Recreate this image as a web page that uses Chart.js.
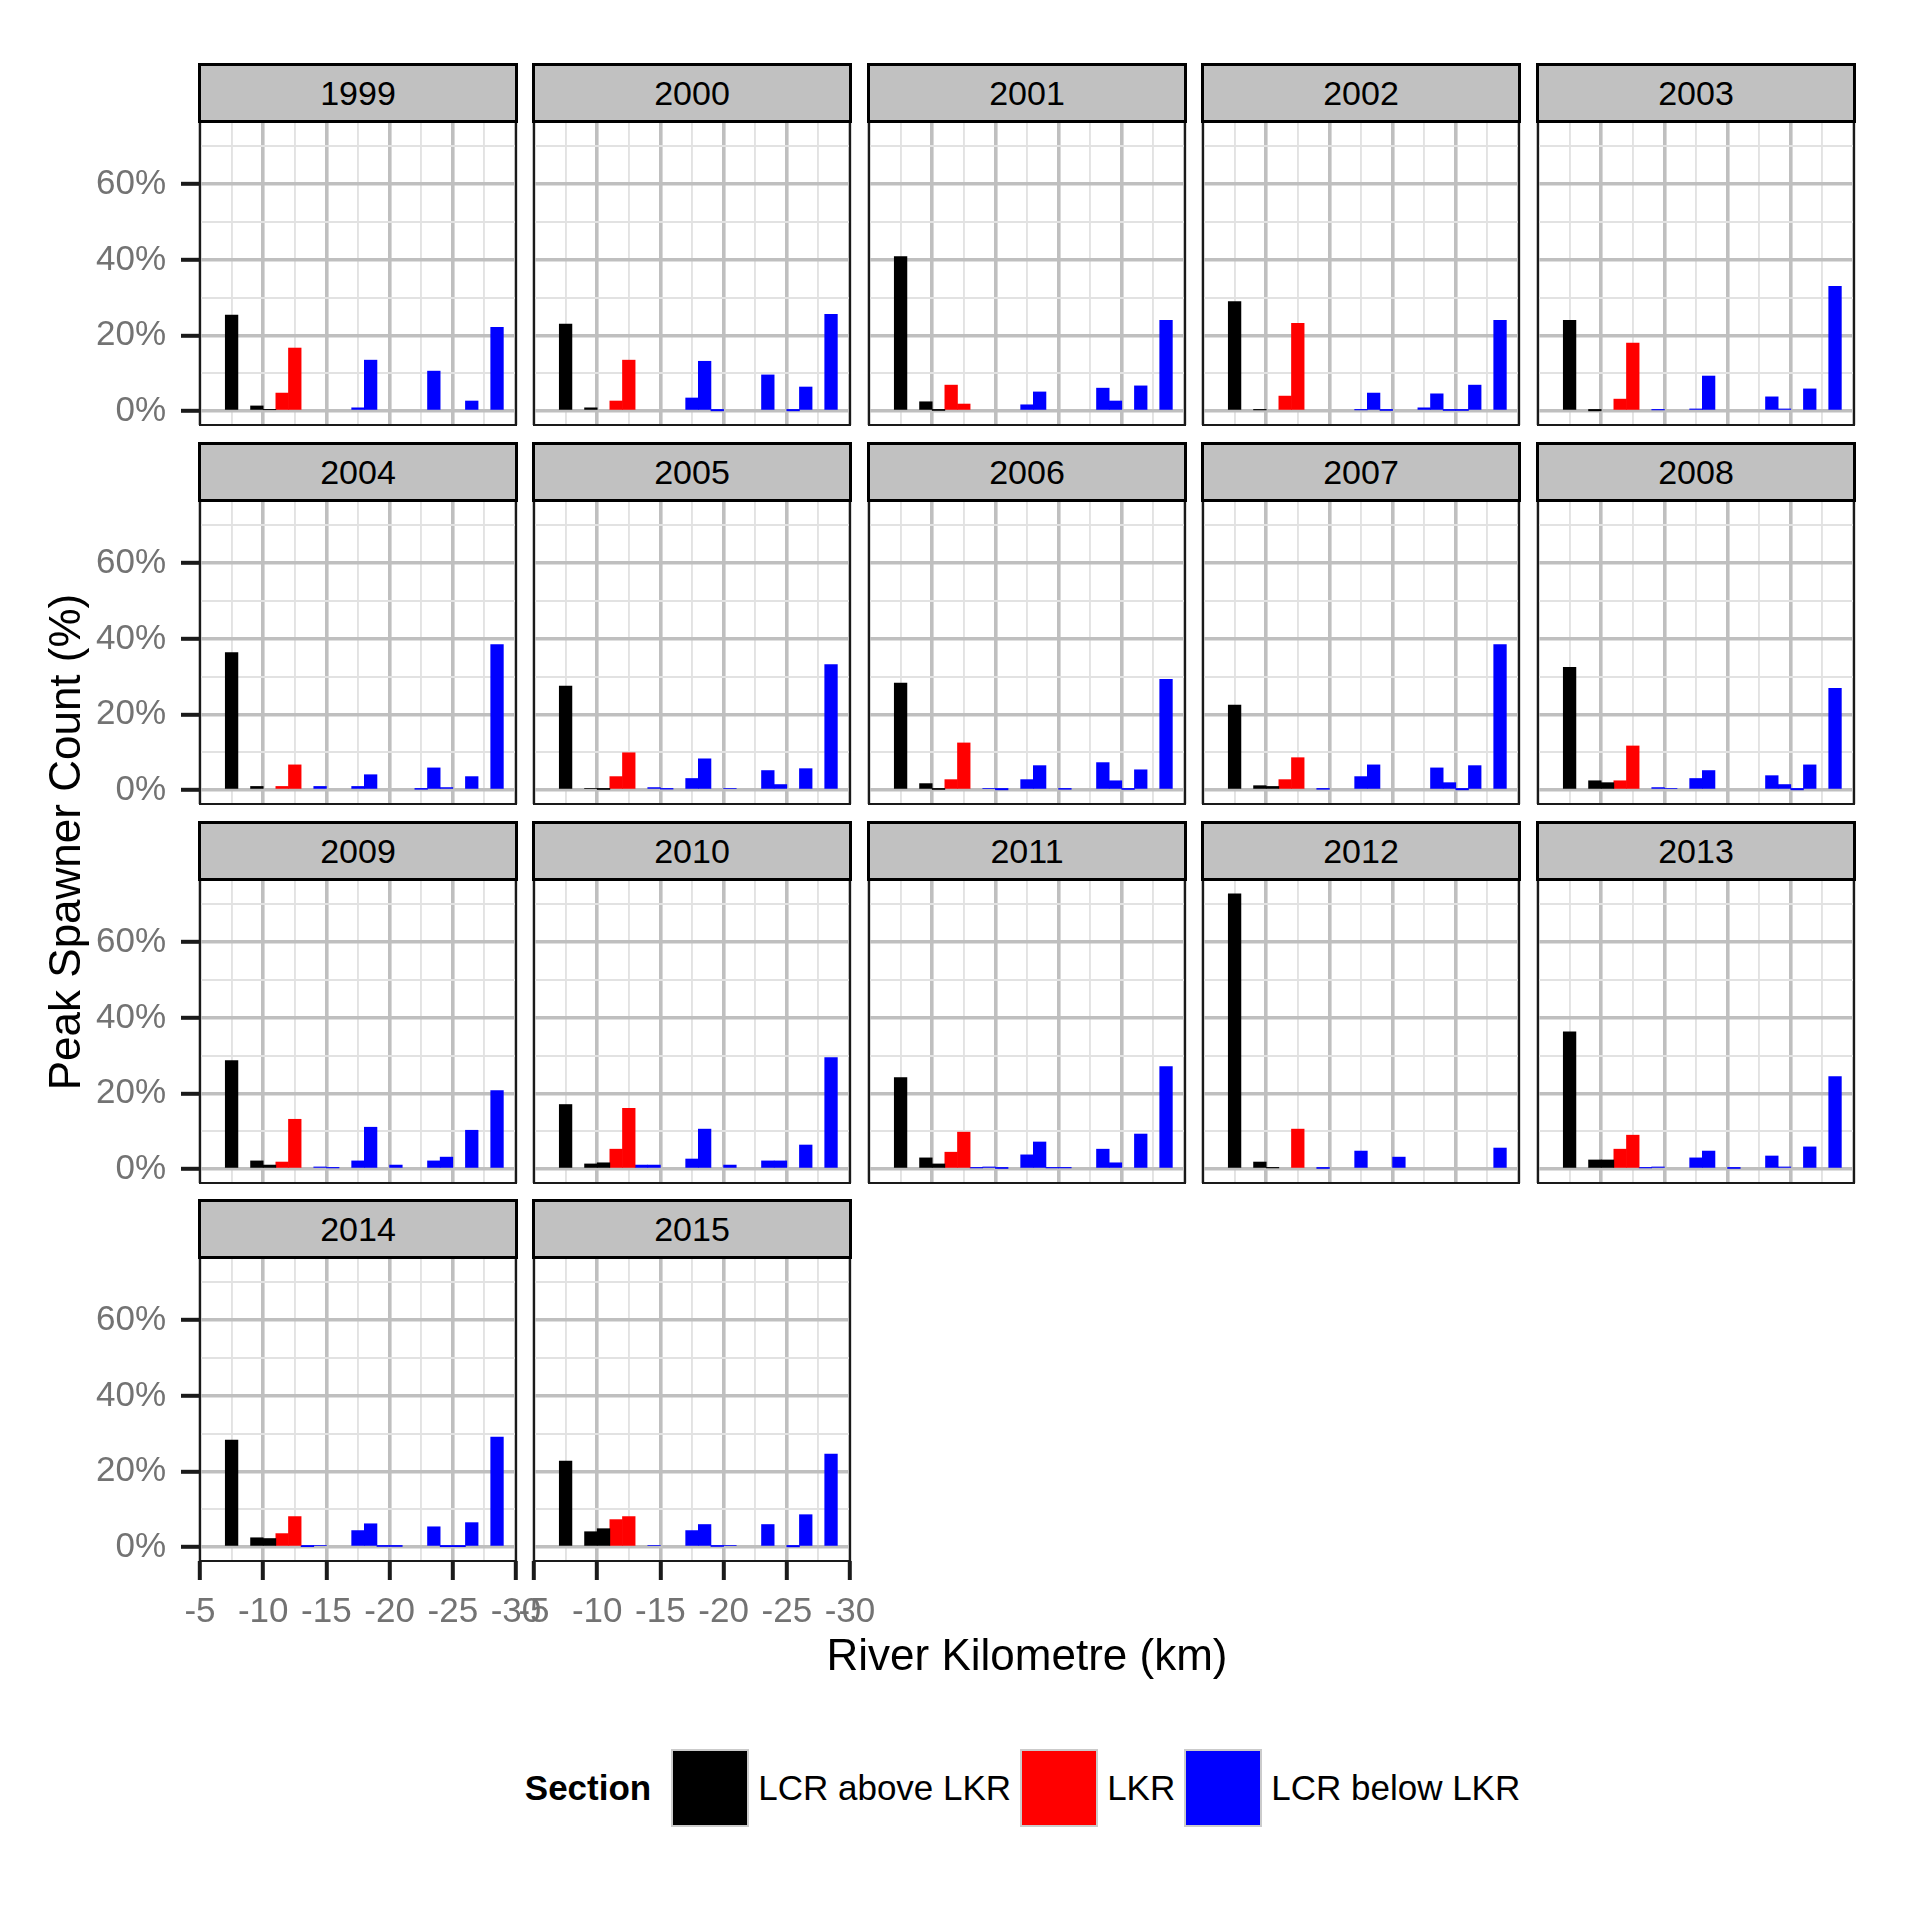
<!DOCTYPE html>
<html>
<head>
<meta charset="utf-8">
<title>Peak Spawner Count by River Kilometre</title>
<script src="https://cdn.jsdelivr.net/npm/chart.js@4.4.1/dist/chart.umd.min.js"></script>
<style>
  body { margin: 0; background: #fff; }
  #page { position: relative; width: 1920px; height: 1920px; overflow: hidden; font-family: "Liberation Sans", Arial, sans-serif; }
  #page canvas { position: absolute; }
  .strip { position: absolute; box-sizing: border-box; border: 3px solid #000; background: #c1c1c1; color: #000; font-size: 34px; text-align: center; }
  .axis-title { position: absolute; font-size: 44px; color: #000; text-align: center; line-height: 50px; white-space: nowrap; }
  #legend { position: absolute; left: 327px; width: 1400px; top: 1749px; height: 78px; display: flex; justify-content: center; align-items: center; font-size: 35px; color: #000; }
  #legend .ttl { font-weight: bold; margin-right: 20px; }
  #legend .key { width: 78px; height: 78px; box-sizing: border-box; border: 2px solid #cbcbcb; }
  #legend .lbl { margin: 0 9px; }
</style>
</head>
<body>
<div id="page"></div>
<script>
// ---- data -------------------------------------------------------------
var years = [1999, 2000, 2001, 2002, 2003, 2004, 2005, 2006, 2007, 2008, 2009, 2010, 2011, 2012, 2013, 2014, 2015];

// 1 km bins, centre of each bin (river km)
var binKm = [-7.5, -8.5, -9.5, -10.5, -11.5, -12.5, -13.5, -14.5, -15.5, -16.5, -17.5,
             -18.5, -19.5, -20.5, -21.5, -22.5, -23.5, -24.5, -25.5, -26.5, -27.5, -28.5];
var sections = ['LCR above LKR', 'LKR', 'LCR below LKR'];
var sectionColours = ['#000000', '#ff0000', '#0000ff'];
var binSection = [0, 0, 0, 0, 1, 1, 2, 2, 2, 2, 2, 2, 2, 2, 2, 2, 2, 2, 2, 2, 2, 2];

// peak spawner count (%) per bin
var p1999 = [25.4, 0, 1.4, 0.4, 4.8, 16.7, 0, 0, 0, 0, 0.9, 13.5, 0, 0, 0, 0, 10.6, 0, 0, 2.7, 0, 22.2];
var p2000 = [23.0, 0, 0.9, 0, 2.7, 13.5, 0, 0, 0, 0, 3.5, 13.2, 0.1, 0, 0, 0, 9.6, 0, 0.1, 6.4, 0, 25.6];
var p2001 = [40.9, 0, 2.5, 0.2, 6.9, 1.9, 0, 0, 0, 0, 1.7, 5.1, 0, 0, 0, 0, 6.1, 2.7, 0, 6.7, 0, 24.0];
var p2002 = [29.0, 0, 0.35, 0, 4.0, 23.2, 0, 0, 0, 0, 0.35, 4.8, 0.2, 0, 0, 0.9, 4.6, 0.2, 0.2, 6.9, 0, 24.0];
var p2003 = [24.0, 0, 0.1, 0, 3.2, 18.0, 0, 0.35, 0, 0, 0.6, 9.3, 0, 0, 0, 0, 3.8, 0.6, 0, 5.9, 0, 33.0];
var p2004 = [36.4, 0, 1.0, 0, 1.0, 6.7, 0, 1.0, 0, 0, 1.0, 4.1, 0, 0, 0, 0.25, 5.9, 0.7, 0, 3.6, 0, 38.5];
var p2005 = [27.5, 0, 0.45, 0.2, 3.6, 9.9, 0, 0.7, 0.3, 0, 3.1, 8.3, 0, 0.45, 0, 0, 5.2, 1.5, 0, 5.7, 0, 33.2];
var p2006 = [28.3, 0, 1.75, 0.2, 2.8, 12.5, 0, 0.45, 0.1, 0, 2.8, 6.5, 0, 0.25, 0, 0, 7.3, 2.5, 0.2, 5.4, 0, 29.3];
var p2007 = [22.5, 0, 1.2, 1.0, 2.8, 8.6, 0, 0.25, 0, 0, 3.6, 6.7, 0, 0, 0, 0, 5.9, 2.0, 0.1, 6.5, 0, 38.5];
var p2008 = [32.5, 0, 2.5, 2.0, 2.5, 11.7, 0, 0.7, 0.45, 0, 3.1, 5.2, 0, 0, 0, 0, 3.85, 1.5, 0.1, 6.7, 0, 26.9];
var p2009 = [28.7, 0, 2.2, 1.1, 1.9, 13.2, 0, 0.6, 0.35, 0, 2.2, 11.1, 0, 1.1, 0, 0, 2.2, 3.2, 0, 10.3, 0, 20.8];
var p2010 = [17.1, 0, 1.4, 1.7, 5.3, 16.1, 1.1, 1.1, 0, 0, 2.7, 10.6, 0, 1.1, 0, 0, 2.2, 2.2, 0, 6.4, 0, 29.5];
var p2011 = [24.2, 0, 3.0, 1.4, 4.5, 9.8, 0.35, 0.6, 0.2, 0, 3.8, 7.2, 0.35, 0.35, 0, 0, 5.3, 1.7, 0, 9.3, 0, 27.1];
var p2012 = [72.8, 0, 1.9, 0.35, 0, 10.6, 0, 0.2, 0, 0, 4.8, 0, 0, 3.2, 0, 0, 0, 0, 0, 0, 0, 5.6];
var p2013 = [36.3, 0, 2.45, 2.45, 5.3, 9.0, 0.35, 0.6, 0, 0, 3.0, 4.8, 0, 0.2, 0, 0, 3.5, 0.6, 0, 5.9, 0, 24.5];
var p2014 = [28.3, 0, 2.5, 2.3, 3.6, 8.1, 0.15, 0.45, 0, 0, 4.4, 6.2, 0.2, 0.2, 0, 0, 5.4, 0.15, 0.15, 6.5, 0, 29.1];
var p2015 = [22.8, 0, 4.1, 4.9, 7.3, 8.1, 0, 0.45, 0, 0, 4.4, 6.0, 0.2, 0.45, 0, 0, 6.0, 0, 0.1, 8.6, 0, 24.6];

var panelValues = [p1999, p2000, p2001, p2002, p2003, p2004, p2005, p2006, p2007, p2008,
                   p2009, p2010, p2011, p2012, p2013, p2014, p2015];

// axes
var xTicks = [-5, -10, -15, -20, -25, -30];
var xMinor = [-7.5, -12.5, -17.5, -22.5, -27.5];
var yTicks = [0, 20, 40, 60];
var yMinor = [10, 30, 50, 70];
var yMin = -3.64, yMax = 76.44;

// ---- layout -----------------------------------------------------------
var colLefts = [200, 534, 869, 1203, 1538];
var rowTops = [122, 501, 880, 1258];
var plotW = 316, plotH = 303;

Chart.defaults.font.family = '"Liberation Sans", Arial, sans-serif';

var page = document.getElementById('page');

var panelBorder = {
  id: 'panelBorder',
  afterDraw: function (chart) {
    var a = chart.chartArea, ctx = chart.ctx;
    ctx.save();
    ctx.strokeStyle = '#1a1a1a';
    ctx.lineWidth = 2;
    ctx.strokeRect(a.left, a.top, a.right - a.left, a.bottom - a.top);
    ctx.restore();
  }
};

function gridStyle(majors, withTicks) {
  return {
    offset: false,
    color: function (c) { return majors.indexOf(c.tick.value) >= 0 ? '#bfbfbf' : '#e2e2e2'; },
    lineWidth: function (c) { return majors.indexOf(c.tick.value) >= 0 ? 3.6 : 1.9; },
    drawTicks: withTicks,
    tickLength: 19,
    tickWidth: 4,
    tickColor: function (c) { return majors.indexOf(c.tick.value) >= 0 ? '#1a1a1a' : 'rgba(0,0,0,0)'; }
  };
}

function drawPanel(i) {
  var col = i % 5, row = Math.floor(i / 5);
  var showY = col === 0;
  var showX = row === 3;
  var axisW = showY ? 200 : 0, axisH = showX ? 80 : 0;
  var padL = showY ? 0 : 40, padR = 40, padT = 40, padB = showX ? 0 : 40;
  var w = axisW + padL + plotW + padR;
  var h = padT + plotH + axisH + padB;

  var canvas = document.createElement('canvas');
  canvas.width = w;
  canvas.height = h;
  canvas.style.left = (colLefts[col] - axisW - padL) + 'px';
  canvas.style.top = (rowTops[row] - padT) + 'px';
  canvas.style.width = w + 'px';
  canvas.style.height = h + 'px';
  page.appendChild(canvas);

  var values = panelValues[i];
  var datasets = sections.map(function (name, s) {
    var pts = [];
    binKm.forEach(function (km, b) {
      // empty bins are left out, otherwise they show as a hairline
      if (binSection[b] === s && values[b] > 0) pts.push({ x: km, y: values[b] });
    });
    return {
      label: name,
      data: pts,
      backgroundColor: sectionColours[s],
      borderWidth: 0,
      grouped: false,
      barPercentage: 1,
      categoryPercentage: 1,
      barThickness: plotW / 25
    };
  });

  var xGrid = xTicks.concat(xMinor).sort(function (a, b) { return a - b; });
  var yGrid = yTicks.concat(yMinor).sort(function (a, b) { return a - b; });
  var tickFont = { size: 35 };

  new Chart(canvas, {
    type: 'bar',
    data: { datasets: datasets },
    options: {
      responsive: false,
      animation: false,
      devicePixelRatio: 1,
      layout: { padding: { left: padL, right: padR, top: padT, bottom: padB } },
      plugins: { legend: { display: false }, tooltip: { enabled: false } },
      scales: {
        x: {
          type: 'linear', reverse: true, min: -30, max: -5, offset: false,
          afterBuildTicks: function (axis) { axis.ticks = xGrid.map(function (v) { return { value: v }; }); },
          afterFit: function (axis) { axis.height = axisH; },
          grid: gridStyle(xTicks, showX),
          border: { display: false },
          ticks: {
            display: showX, autoSkip: false, maxRotation: 0, minRotation: 0, padding: 11,
            font: tickFont, color: '#737373',
            callback: function (v) { return xTicks.indexOf(v) >= 0 ? String(v) : ''; }
          }
        },
        y: {
          type: 'linear', min: yMin, max: yMax,
          afterBuildTicks: function (axis) { axis.ticks = yGrid.map(function (v) { return { value: v }; }); },
          afterFit: function (axis) { axis.width = axisW; },
          grid: gridStyle(yTicks, showY),
          border: { display: false },
          ticks: {
            display: showY, autoSkip: false, padding: 15,
            font: tickFont, color: '#737373',
            callback: function (v) { return yTicks.indexOf(v) >= 0 ? v + '%' : ''; }
          }
        }
      }
    },
    plugins: [panelBorder]
  });

  // facet strip
  var strip = document.createElement('div');
  strip.className = 'strip';
  strip.style.left = (colLefts[col] - 2) + 'px';
  strip.style.top = (rowTops[row] - 59) + 'px';
  strip.style.width = (plotW + 4) + 'px';
  strip.style.height = '60px';
  strip.style.lineHeight = '54px';
  strip.textContent = years[i];
  page.appendChild(strip);
}

years.forEach(function (y, i) { drawPanel(i); });

// axis titles
var xTitle = document.createElement('div');
xTitle.className = 'axis-title';
xTitle.style.left = '527px';
xTitle.style.width = '1000px';
xTitle.style.top = '1630px';
xTitle.textContent = 'River Kilometre (km)';
page.appendChild(xTitle);

var yTitle = document.createElement('div');
yTitle.className = 'axis-title';
yTitle.style.left = '-335px';
yTitle.style.width = '800px';
yTitle.style.top = '817px';
yTitle.style.transform = 'rotate(-90deg)';
yTitle.textContent = 'Peak Spawner Count (%)';
page.appendChild(yTitle);

// legend
var legend = document.createElement('div');
legend.id = 'legend';
var ttl = document.createElement('span');
ttl.className = 'ttl';
ttl.textContent = 'Section';
legend.appendChild(ttl);
sections.forEach(function (name, s) {
  var key = document.createElement('span');
  key.className = 'key';
  key.style.background = sectionColours[s];
  legend.appendChild(key);
  var lbl = document.createElement('span');
  lbl.className = 'lbl';
  lbl.textContent = name;
  legend.appendChild(lbl);
});
page.appendChild(legend);
</script>
</body>
</html>
